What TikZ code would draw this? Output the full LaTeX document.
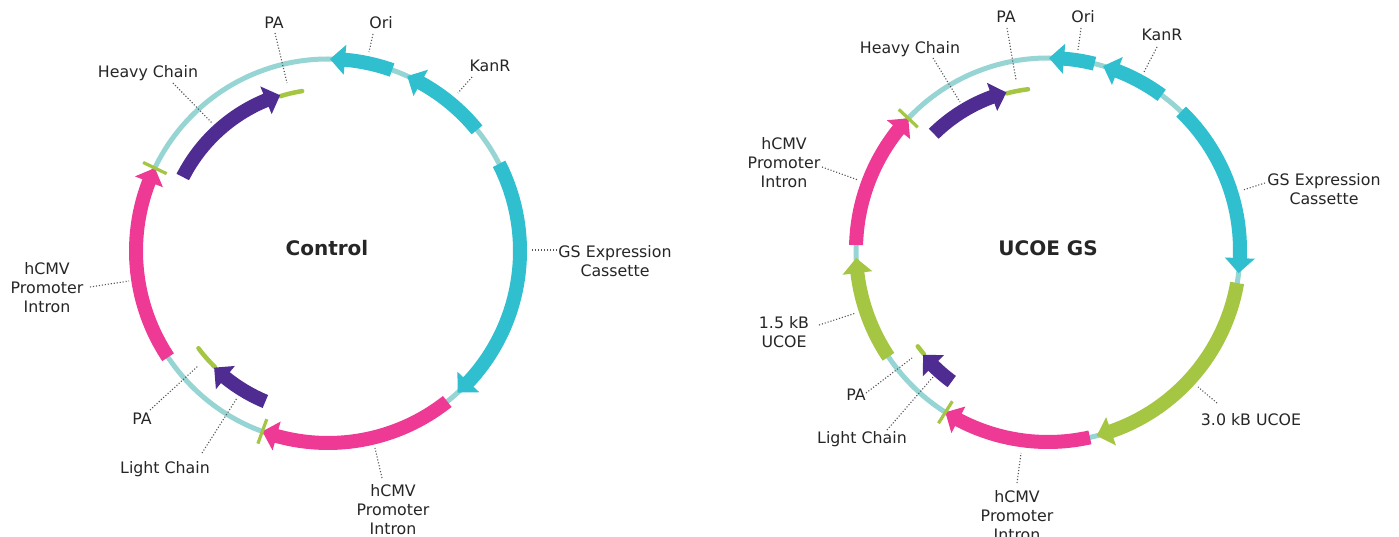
\documentclass[tikz,border=0pt]{standalone}
\usepackage{fontspec}
\setmainfont{DejaVu Sans}
\definecolor{bb}{HTML}{97D5D4}
\definecolor{cy}{HTML}{2FBFCF}
\definecolor{pk}{HTML}{EE3A94}
\definecolor{pu}{HTML}{4F2C91}
\definecolor{gr}{HTML}{A5C642}
\definecolor{tx}{HTML}{262626}
\definecolor{ld}{HTML}{555555}
% feature arc with arrowhead: colour, radius, flat-end angle, tip angle
\newcommand\plfeat[4]{%
  \pgfmathsetmacro\fa{#3}\pgfmathsetmacro\fb{#4}%
  \pgfmathsetmacro\fh{(15/#2)*57.2958*sign(\fb-\fa)}%
  \pgfmathsetmacro\fc{\fb-\fh}%
  \pgfmathsetmacro\ro{#2+7}\pgfmathsetmacro\ri{#2-7}%
  \pgfmathsetmacro\rO{#2+15}\pgfmathsetmacro\rI{#2-15}%
  \fill[#1] (\fa:\ro) arc[start angle=\fa, end angle=\fc, radius=\ro]
     -- (\fc:\rO) -- (\fb:#2) -- (\fc:\rI) -- (\fc:\ri)
     arc[start angle=\fc, end angle=\fa, radius=\ri] -- cycle;}
\newcommand\pltick[1]{\draw[gr, line width=3.2] (#1:179) -- (#1:205);}
\newcommand\plpa[3]{\draw[gr, line width=4.5, line cap=round] (#2:#1) arc[start angle=#2, end angle=#3, radius=#1];}
\begin{document}
\begin{tikzpicture}[x=1pt,y=1pt,
  lbl/.style={font=\fontsize{15.8}{19}\selectfont, text=tx, align=center, inner sep=0pt},
  ttl/.style={font=\fontsize{20}{24}\selectfont\bfseries, text=tx, inner sep=0pt},
  leader/.style={draw=ld, line width=1.1pt, dash pattern=on 1.1pt off 1.9pt}]
\useasboundingbox (0,0) rectangle (1399,-537);
\fill[white] (0,0) rectangle (1399,-537);

% ---------- left plasmid ----------
\begin{scope}[shift={(328,-251)}]
 \draw[bb, line width=5] (0,0) circle (192);
 \plfeat{cy}{192}{70.5}{89.4}
 \plfeat{cy}{192}{39.1}{65.6}
 \plfeat{cy}{192}{27}{-47.5}
 \plfeat{pk}{192}{-51.6}{-110}
 \plfeat{pk}{192}{213.6}{154.4}
 \plpa{162}{107.1}{99.2}
 \plfeat{pu}{163}{153}{107.1}
 \plpa{162}{225.7}{216.9}
 \plfeat{pu}{163}{247.4}{225.7}
 \pltick{154.4}
 \pltick{250}
\end{scope}

% ---------- right plasmid ----------
\begin{scope}[shift={(1048,-250)}]
 \draw[bb, line width=5] (0,0) circle (192);
 \plfeat{cy}{192}{76}{89.7}
 \plfeat{cy}{192}{53.7}{73.3}
 \plfeat{cy}{192}{46.1}{-6.9}
 \plfeat{gr}{192}{-9.9}{-75.3}
 \plfeat{pk}{192}{-77.4}{-122.3}
 \plfeat{gr}{192}{213.8}{182.4}
 \plfeat{pk}{192}{178.5}{136.7}
 \plpa{162}{104.8}{97.1}
 \plfeat{pu}{163}{134.5}{104.8}
 \plpa{162}{220}{216.5}
 \plfeat{pu}{163}{233.8}{220}
 \pltick{136.7}
 \pltick{237.7}
\end{scope}

% ---------- titles ----------
\node[ttl] (tC) at (327,-248.5) {Control};
\node[ttl] (tU) at (1048,-248.5) {UCOE GS};

% ---------- left labels ----------
\node[lbl] (LPA1) at (274,-23) {PA};
\node[lbl] (LOri1) at (381,-23) {Ori};
\node[lbl] (LKan1) at (490,-66) {KanR};
\node[lbl] (LHC1) at (148,-73) {Heavy Chain};
\node[lbl] (LGS1) at (615,-261) {GS Expression\\Cassette};
\node[lbl] (LCMV1) at (47,-288) {hCMV\\Promoter\\Intron};
\node[lbl] (LPA2) at (142,-419) {PA};
\node[lbl] (LLC1) at (165,-469) {Light Chain};
\node[lbl] (LCMV2) at (393,-510) {hCMV\\Promoter\\Intron};

\coordinate (fPA1) at (287,-83);
\coordinate (fOri1) at (369,-52);
\coordinate (fKan1) at (458,-93);
\coordinate (fHC1) at (212,-123);
\coordinate (fGS1) at (532,-250);
\coordinate (fCMV1) at (129,-281);
\coordinate (fPA2) at (198,-366);
\coordinate (fLC1) at (237,-398);
\coordinate (fCMV2) at (375,-448);

\draw[leader] ([shift={(1,-10)}]LPA1.center) -- (fPA1);
\draw[leader] ([shift={(-8,-11)}]LOri1.center) -- (fOri1);
\draw[leader] ([shift={(-18,-11)}]LKan1.center) -- (fKan1);
\draw[leader] ([shift={(25,-10)}]LHC1.center) -- (fHC1);
\draw[leader] ([shift={(-58,11)}]LGS1.center) -- (fGS1);
\draw[leader] ([shift={(43,1)}]LCMV1.center) -- (fCMV1);
\draw[leader] ([shift={(8,9)}]LPA2.center) -- (fPA2);
\draw[leader] ([shift={(37,16)}]LLC1.center) -- (fLC1);
\draw[leader] ([shift={(-11,32)}]LCMV2.center) -- (fCMV2);

% ---------- right labels ----------
\node[lbl] (LHC2) at (910,-49) {Heavy Chain};
\node[lbl] (LPA3) at (1006,-17) {PA};
\node[lbl] (LOri2) at (1083,-17) {Ori};
\node[lbl] (LKan2) at (1162,-35) {KanR};
\node[lbl] (LGS2) at (1324,-189) {GS Expression\\Cassette};
\node[lbl] (LCMV3) at (784,-163) {hCMV\\Promoter\\Intron};
\node[lbl] (LUC1) at (784,-332) {1.5 kB\\UCOE};
\node[lbl] (LPA4) at (856,-395) {PA};
\node[lbl] (LLC2) at (862,-439) {Light Chain};
\node[lbl] (LCMV4) at (1017,-516) {hCMV\\Promoter\\Intron};
\node[lbl] (LUC3) at (1251,-420) {3.0 kB UCOE};

\coordinate (fHC2) at (960,-102);
\coordinate (fPA3) at (1016,-80);
\coordinate (fOri2) at (1078,-50);
\coordinate (fKan2) at (1144,-72);
\coordinate (fGS2) at (1243,-190);
\coordinate (fCMV3) at (858,-180);
\coordinate (fUC1) at (856,-313);
\coordinate (fPA4) at (912,-358);
\coordinate (fLC2) at (933,-377);
\coordinate (fCMV4) at (1021,-453);
\coordinate (fUC3) at (1198,-387);

\draw[leader] ([shift={(23,-9)}]LHC2.center) -- (fHC2);
\draw[leader] ([shift={(1,-11)}]LPA3.center) -- (fPA3);
\draw[leader] ([shift={(-2,-11)}]LOri2.center) -- (fOri2);
\draw[leader] ([shift={(-5,-12)}]LKan2.center) -- (fKan2);
\draw[leader] ([shift={(-59,6)}]LGS2.center) -- (fGS2);
\draw[leader] ([shift={(38,-4)}]LCMV3.center) -- (fCMV3);
\draw[leader] ([shift={(35,7)}]LUC1.center) -- (fUC1);
\draw[leader] ([shift={(10,2)}]LPA4.center) -- (fPA4);
\draw[leader] ([shift={(25,9)}]LLC2.center) -- (fLC2);
\draw[leader] ([shift={(0,33)}]LCMV4.center) -- (fCMV4);
\draw[leader] ([shift={(-34,17)}]LUC3.center) -- (fUC3);
\end{tikzpicture}
\end{document}
